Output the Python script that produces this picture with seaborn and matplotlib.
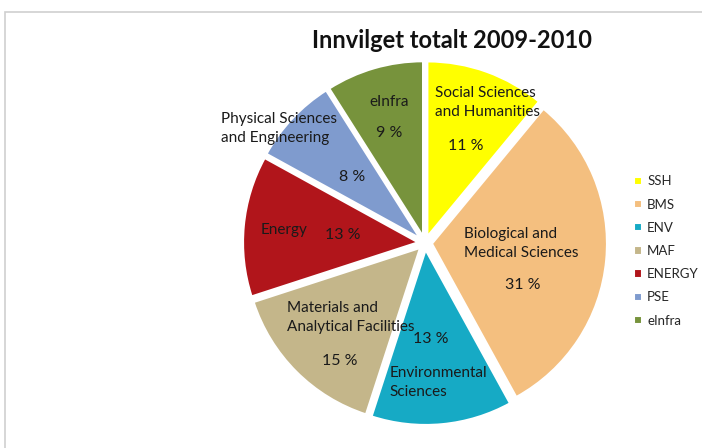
import numpy as np
import matplotlib
matplotlib.use("Agg")
import matplotlib.pyplot as plt
import seaborn as sns
from matplotlib.patches import Rectangle

# data
codes = ["SSH", "BMS", "ENV", "MAF", "ENERGY", "PSE", "eInfra"]
names = ["Social Sciences\nand Humanities", "Biological and\nMedical Sciences",
         "Environmental\nSciences", "Materials and\nAnalytical Facilities",
         "Energy", "Physical Sciences\nand Engineering", "eInfra"]
shares = [11, 31, 13, 15, 13, 8, 9]
colors = ["#FFFF00", "#F4BF7F", "#16AAC5", "#C4B68A", "#B1151B", "#7F9BCE", "#77933C"]

# label placement (radius in units of 175 px, angle tweak in degrees)
name_r = [0.88, 0.55, 0.80, 0.60, 0.81, 1.06, 0.83]
name_da = [4, -5, 0, 0, 0, -5, 2]
pct_r = [0.60, 0.61, 0.55, 0.83, 0.47, 0.56, 0.66]
pct_da = [3, 18, 2, -9, 0, -1, -2]

px_unit = 175  # pixels per pie radius
k = 175 / px_unit

sns.set_theme(style="white")
plt.rcParams["font.family"] = ["Lato", "DejaVu Sans"]

fig = plt.figure(figsize=(7.02, 4.48), dpi=100)
fig.patch.set_facecolor("white")
fig.patches.append(Rectangle((5 / 702, -0.1), 1.2, (448 - 12) / 448 + 0.1,
                             transform=fig.transFigure, fill=False,
                             edgecolor="#cfcfcf", linewidth=1.2))

ax = fig.add_axes([225 / 702, 5 / 448, 400 / 702, 400 / 448])

wedges, _ = ax.pie(shares, colors=sns.color_palette(colors), startangle=90,
                   counterclock=False, explode=[0.04] * len(shares),
                   wedgeprops=dict(edgecolor="white", linewidth=1.5),
                   radius=1.0)

# pie() resets the limits, so set them afterwards
lim = 200 / px_unit
ax.set_xlim(-lim, lim)
ax.set_ylim(-lim, lim)
ax.set_aspect("equal")
ax.axis("off")

total = sum(shares)
start = 0.0
for i, v in enumerate(shares):
    span = 360.0 * v / total
    mid = start + span / 2
    start += span
    a = np.radians(mid + name_da[i])
    r = name_r[i] * k
    ax.text(r * np.sin(a), r * np.cos(a), names[i],
            ha="center", va="center", multialignment="left",
            fontsize=11, color="#1a1a1a", linespacing=1.45)
    a = np.radians(mid + pct_da[i])
    r = pct_r[i] * k
    ax.text(r * np.sin(a), r * np.cos(a), f"{v} %",
            ha="center", va="center", fontsize=11.5, color="#1a1a1a")

fig.text(452 / 702, 1 - 40 / 448, "Innvilget totalt 2009-2010",
         ha="center", va="center", fontsize=17, fontweight="bold",
         color="#111111")

fig.legend(wedges, codes, loc="center left", bbox_to_anchor=(634 / 702, 1 - 251 / 448),
           frameon=False, fontsize=9.5, handlelength=0.6, handleheight=0.6,
           handletextpad=0.4, labelspacing=0.85, borderaxespad=0, borderpad=0)

fig.savefig("out.png", dpi=100)
